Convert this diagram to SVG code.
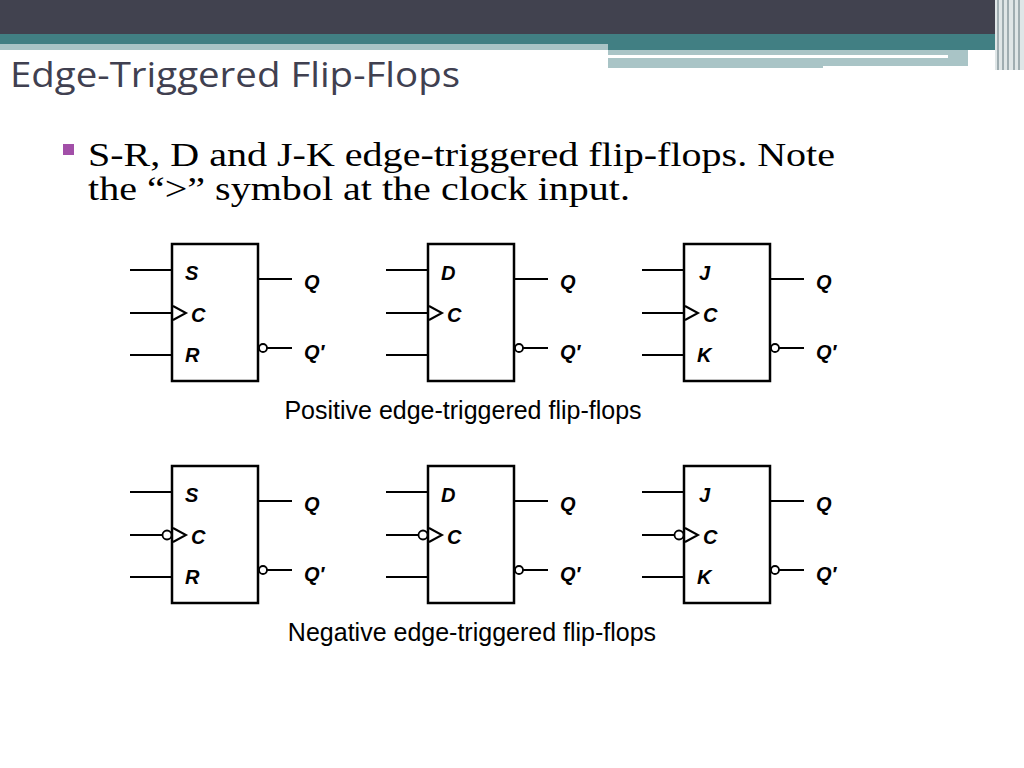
<svg xmlns="http://www.w3.org/2000/svg" width="1024" height="768" viewBox="0 0 1024 768">
<style>
.b{fill:#fff;stroke:#000;stroke-width:2.5}
.w{stroke:#000;stroke-width:2;fill:none}
.bub{fill:#fff;stroke:#000;stroke-width:1.8}
.l{font-family:"Liberation Sans",Arial,sans-serif;font-weight:bold;font-style:italic;font-size:20px}
.cap{font-family:"Liberation Sans",Arial,sans-serif;font-size:25px}
</style>
<defs>
<g id="ff">
<rect class="b" x="172" y="244" width="86" height="137"/>
<path class="w" d="M130 270H172M130 313H172M130 355H172M258 279H292M267 348H292"/>
<circle class="bub" cx="263" cy="348" r="4"/>
<path class="w" d="M173 306L186 313L173 320"/>
</g>
<g id="nb"><circle class="bub" cx="167" cy="313" r="4.5"/></g>
</defs>
<rect x="0" y="0" width="1024" height="34" fill="#41424f"/>
<rect x="0" y="34" width="1024" height="16" fill="#417f83"/>
<rect x="0" y="44" width="608" height="6" fill="#a9c4c6"/>
<rect x="608" y="50" width="360" height="16" fill="#a9c4c6"/>
<rect x="608" y="55" width="340" height="3" fill="#fff"/>
<rect x="608" y="66" width="215" height="2" fill="#a9c4c6"/>
<rect x="995" y="0" width="29" height="70" fill="#dfe6e7"/>
<path d="M998 0V70M1003 0V70M1008 0V70M1014 0V70M1019 0V70" stroke="#8a9aa0" stroke-width="1.5"/>
<text x="10" y="87" font-family="'Open Sans',sans-serif" font-size="34" fill="#404050" textLength="450" lengthAdjust="spacingAndGlyphs">Edge-Triggered Flip-Flops</text>
<rect x="63" y="144" width="11" height="11" fill="#a24fa8"/>
<g font-family="'Liberation Serif',serif" font-size="34" fill="#000">
<text x="88" y="166" textLength="747" lengthAdjust="spacingAndGlyphs">S-R, D and J-K edge-triggered flip-flops. Note</text>
<text x="88" y="200" textLength="542" lengthAdjust="spacingAndGlyphs">the “&gt;” symbol at the clock input.</text>
</g>
<g id="connectors"/>
<g id="pos-sr"><use href="#ff"/><text class="l" x="185" y="280">S</text><text class="l" x="191" y="322">C</text><text class="l" x="185" y="362">R</text><text class="l" x="304" y="289">Q</text><text class="l" x="304" y="359">Q′</text></g>
<g id="pos-d" transform="translate(256,0)"><use href="#ff"/><text class="l" x="185" y="280">D</text><text class="l" x="191" y="322">C</text><text class="l" x="304" y="289">Q</text><text class="l" x="304" y="359">Q′</text></g>
<g id="pos-jk" transform="translate(512,0)"><use href="#ff"/><text class="l" x="187" y="280">J</text><text class="l" x="191" y="322">C</text><text class="l" x="185" y="362">K</text><text class="l" x="304" y="289">Q</text><text class="l" x="304" y="359">Q′</text></g>
<text class="cap" x="463" y="419" text-anchor="middle">Positive edge-triggered flip-flops</text>
<g id="neg-sr" transform="translate(0,222)"><use href="#ff"/><use href="#nb"/><text class="l" x="185" y="280">S</text><text class="l" x="191" y="322">C</text><text class="l" x="185" y="362">R</text><text class="l" x="304" y="289">Q</text><text class="l" x="304" y="359">Q′</text></g>
<g id="neg-d" transform="translate(256,222)"><use href="#ff"/><use href="#nb"/><text class="l" x="185" y="280">D</text><text class="l" x="191" y="322">C</text><text class="l" x="304" y="289">Q</text><text class="l" x="304" y="359">Q′</text></g>
<g id="neg-jk" transform="translate(512,222)"><use href="#ff"/><use href="#nb"/><text class="l" x="187" y="280">J</text><text class="l" x="191" y="322">C</text><text class="l" x="185" y="362">K</text><text class="l" x="304" y="289">Q</text><text class="l" x="304" y="359">Q′</text></g>
<text class="cap" x="472" y="641" text-anchor="middle">Negative edge-triggered flip-flops</text>
</svg>
